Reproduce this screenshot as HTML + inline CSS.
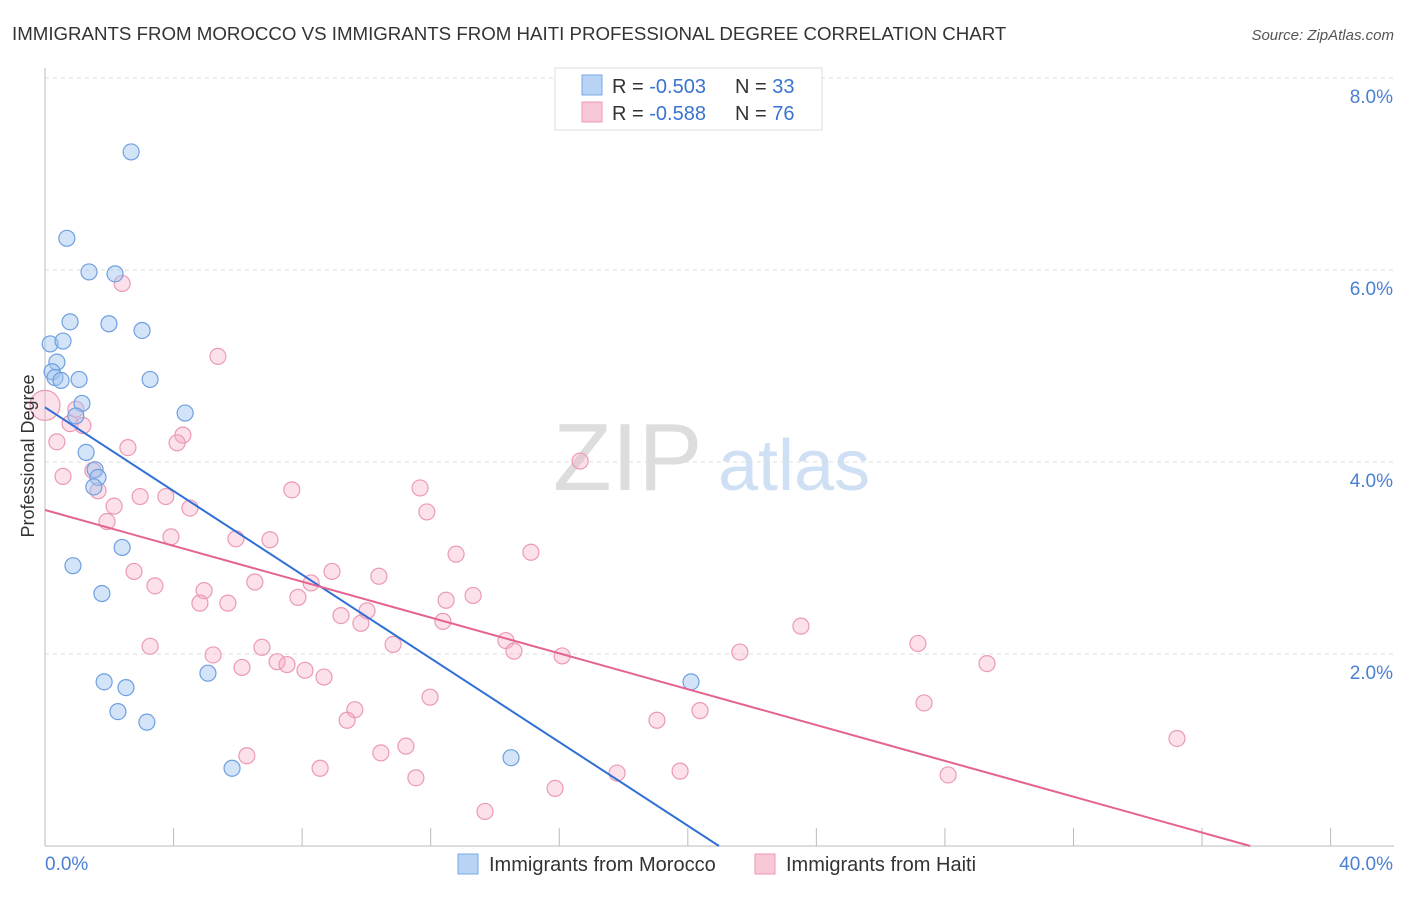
<!DOCTYPE html>
<html><head><meta charset="utf-8"><style>
body{margin:0;background:#fff;font-family:"Liberation Sans",sans-serif;}
svg text{font-family:"Liberation Sans",sans-serif;}
</style></head><body>
<svg width="1406" height="892" xmlns="http://www.w3.org/2000/svg" id="chart">
<text x="12" y="40" font-size="18.7" fill="#333">IMMIGRANTS FROM MOROCCO VS IMMIGRANTS FROM HAITI PROFESSIONAL DEGREE CORRELATION CHART</text>
<text x="1394" y="40" font-size="15" fill="#555" font-style="italic" text-anchor="end">Source: ZipAtlas.com</text>
<text x="553" y="490" font-size="96" fill="#ddd" font-family="Liberation Serif">ZIP</text>
<text x="718" y="490" font-size="72" fill="#cfe0f4">atlas</text>
<g id="grid"></g>
<g id="axes"></g>
<g id="pts"></g>
<g id="trend"></g>
<text transform="translate(34,456) rotate(-90)" font-size="18" fill="#333" text-anchor="middle">Professional Degree</text>
<g>
<rect x="555" y="68" width="267" height="62" fill="#fff" stroke="#ddd"/>
<rect x="582" y="75" width="20" height="20" fill="#b9d3f5" stroke="#7aa8e8"/>
<rect x="582" y="102" width="20" height="20" fill="#f9c8d6" stroke="#ef9ab4"/>
<text x="612" y="93" font-size="20" fill="#333">R = <tspan fill="#3a74d0">-0.503</tspan></text>
<text x="735" y="93" font-size="20" fill="#333">N = <tspan fill="#3a74d0">33</tspan></text>
<text x="612" y="120" font-size="20" fill="#333">R = <tspan fill="#3a74d0">-0.588</tspan></text>
<text x="735" y="120" font-size="20" fill="#333">N = <tspan fill="#3a74d0">76</tspan></text>
</g>
<g>
<rect x="458" y="854" width="20" height="20" fill="#b9d3f5" stroke="#7aa8e8"/>
<text x="489" y="871" font-size="20" fill="#333">Immigrants from Morocco</text>
<rect x="755" y="854" width="20" height="20" fill="#f9c8d6" stroke="#ef9ab4"/>
<text x="786" y="871" font-size="20" fill="#333">Immigrants from Haiti</text>
</g>
</svg>
<script>
const blueX=[2.68,0.68,1.37,2.18,0.78,1.99,3.02,0.16,0.56,0.37,0.22,0.31,0.50,1.06,3.27,1.15,4.36,0.96,1.28,1.56,1.65,1.52,2.40,0.87,1.77,1.84,2.52,5.07,2.27,3.17,5.82,14.50,20.10];
const blueY=[7.23,6.33,5.98,5.96,5.46,5.44,5.37,5.23,5.26,5.04,4.94,4.88,4.85,4.86,4.86,4.61,4.51,4.48,4.10,3.92,3.84,3.74,3.11,2.92,2.63,1.71,1.65,1.80,1.40,1.29,0.81,0.92,1.71];
const pinkX=[0,0.37,0.78,0.96,1.18,0.56,1.49,1.65,2.40,5.38,4.29,4.11,2.58,2.15,1.93,2.96,3.76,4.51,3.92,5.94,7.68,7.00,2.77,3.42,4.95,4.82,5.69,6.53,7.87,8.28,8.93,10.39,11.67,11.88,12.79,15.12,16.65,13.32,12.48,10.02,9.21,9.83,12.38,14.34,14.59,16.09,3.27,5.23,6.13,6.75,7.22,7.53,8.09,8.68,10.83,9.64,9.40,11.98,11.23,10.45,11.54,8.56,6.28,13.69,15.87,17.80,19.76,19.04,20.38,21.62,23.52,27.16,27.35,29.31,28.10,35.22];
const pinkY=[4.59,4.21,4.40,4.55,4.38,3.85,3.91,3.70,5.86,5.10,4.28,4.20,4.15,3.54,3.38,3.64,3.64,3.52,3.22,3.20,3.71,3.19,2.86,2.71,2.66,2.53,2.53,2.75,2.59,2.74,2.86,2.81,3.73,3.48,3.04,3.06,4.01,2.61,2.56,2.45,2.40,2.32,2.34,2.14,2.03,1.98,2.08,1.99,1.86,2.07,1.92,1.89,1.83,1.76,2.10,1.42,1.31,1.55,1.04,0.97,0.71,0.81,0.94,0.36,0.60,0.76,0.78,1.31,1.41,2.02,2.29,2.11,1.49,1.90,0.74,1.12];
const xTicks=[0,4,8,12,16,20,24,28,32,36,40];
const yTicks=[2,4,6,8];
const yTickLabels=["2.0%","4.0%","6.0%","8.0%"];
const blueTrend=[[0,4.57],[20.97,0]];
const pinkTrend=[[0,3.5],[37.5,0]];
const NS="http://www.w3.org/2000/svg";
const X=v=>45+v*32.14, Y=v=>846-v*96;
function mk(p,t,a){const e=document.createElementNS(NS,t);for(const k in a)e.setAttribute(k,a[k]);document.getElementById(p).appendChild(e);return e;}
yTicks.forEach((t,i)=>{
 const l=mk('grid','line',{x1:45,x2:1394,y1:Y(t),y2:Y(t),stroke:'#ddd','stroke-dasharray':'4,4'});
 
 
 const tx=mk('grid','text',{x:1393,y:Y(t)+25,'font-size':19,fill:'#4a7fd4','text-anchor':'end'});
 tx.textContent=yTickLabels[i];
 
 
});
const ax=mk('axes','line',{x1:45,x2:45,y1:68,y2:846,stroke:'#bbb'});


const bx=mk('axes','line',{x1:45,x2:1394,y1:846,y2:846,stroke:'#bbb'});


xTicks.forEach(t=>{
 const l=mk('axes','line',{x1:X(t),x2:X(t),y1:828,y2:846,stroke:'#bbb'});
 
 
});
const x0=mk('axes','text',{x:45,y:870,'font-size':19,fill:'#4a7fd4'});x0.textContent=xTicks[0].toFixed(1)+'%';


const x1=mk('axes','text',{x:1393,y:870,'font-size':19,fill:'#4a7fd4','text-anchor':'end'});x1.textContent=xTicks[xTicks.length-1].toFixed(1)+'%';


pinkX.forEach((v,i)=>{
 const c=mk('pts','circle',{cx:X(v),cy:Y(pinkY[i]),r:i==0?15:8,fill:'rgba(246,170,195,0.35)',stroke:'#eb9ab4','stroke-width':1.2});
 
 
});
blueX.forEach((v,i)=>{
 const c=mk('pts','circle',{cx:X(v),cy:Y(blueY[i]),r:8,fill:'rgba(160,196,240,0.45)',stroke:'#6e9fe0','stroke-width':1.2});
 
 
});
const bt=mk('trend','line',{x1:X(blueTrend[0][0]),y1:Y(blueTrend[0][1]),x2:X(blueTrend[1][0]),y2:Y(blueTrend[1][1]),stroke:'#2f6fd6','stroke-width':2});


const pt=mk('trend','line',{x1:X(pinkTrend[0][0]),y1:Y(pinkTrend[0][1]),x2:X(pinkTrend[1][0]),y2:Y(pinkTrend[1][1]),stroke:'#e4638f','stroke-width':2});


</script>
</body></html>
